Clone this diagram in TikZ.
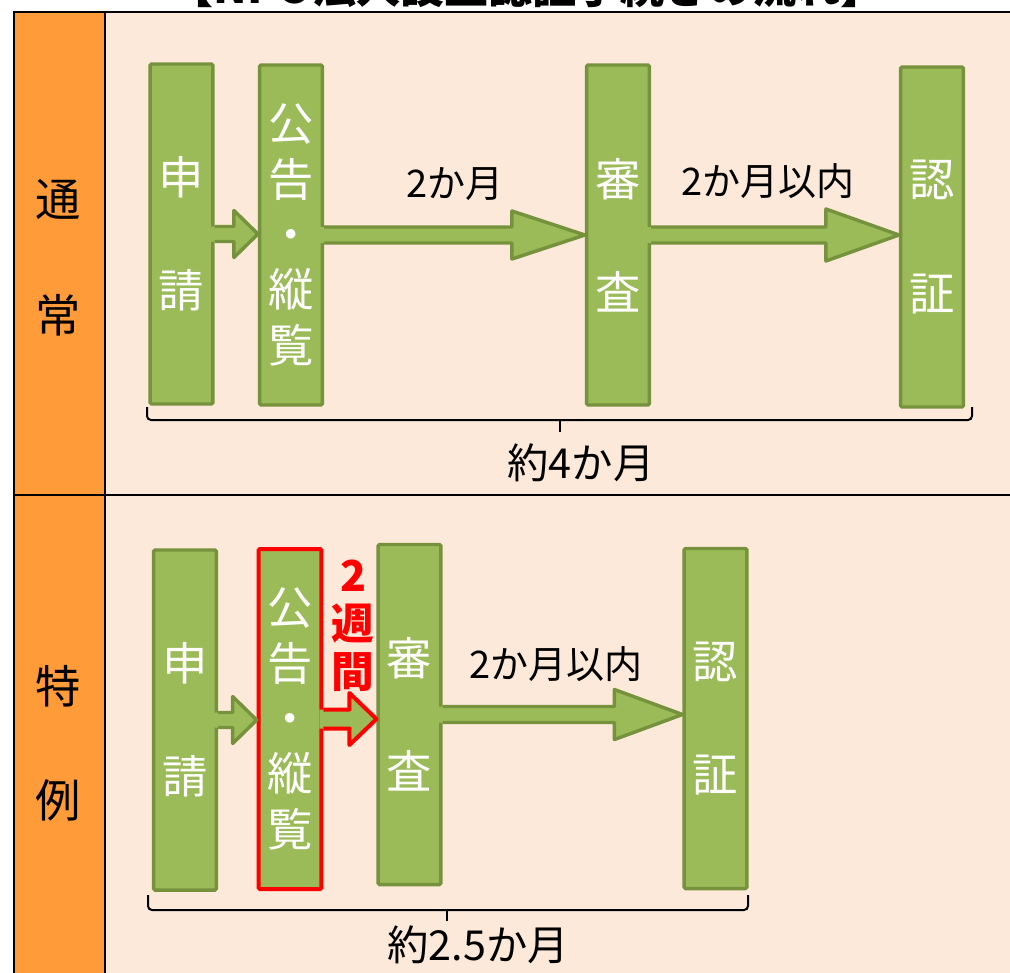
\documentclass[tikz,border=0pt]{standalone}
\usepackage{fontspec}
\setmainfont{Noto Sans CJK JP}
\usetikzlibrary{calc}
\definecolor{peach}{RGB}{253,233,217}
\definecolor{orng}{RGB}{255,155,56}
\definecolor{gfill}{RGB}{155,187,89}
\definecolor{gline}{RGB}{118,146,60}
\definecolor{redc}{RGB}{255,0,0}
\newcommand\blockarr[7]{%
  \coordinate (tipA) at (#3.east -| #4.west);
  \fill[gfill] ($(#3.east)+(-4,-#5)$) -- ($(tipA)+(-#7,-#5)$) -- ($(tipA)+(-#7,-#6)$) -- (tipA) -- ($(tipA)+(-#7,#6)$) -- ($(tipA)+(-#7,#5)$) -- ($(#3.east)+(-4,#5)$) -- cycle;
  \draw[#1,line join=round] ($(#3.east)+(0,-#5)$) -- ($(tipA)+(-#7,-#5)$) -- ($(tipA)+(-#7,-#6)$) -- (tipA) -- ($(tipA)+(-#7,#6)$) -- ($(tipA)+(-#7,#5)$) -- ($(#3.east)+(0,#5)$);
}
\begin{document}
\begin{tikzpicture}[x=0.75pt,y=-0.75pt,
  box/.style={draw=gline, fill=gfill, line width=2.6pt, rounded corners=1pt, inner sep=0pt,
    minimum width=47pt, minimum height=255pt, text=white, align=center},
  onechar/.style={font=\fontsize{34}{85}\selectfont},
  fivechar/.style={font=\fontsize{34}{41.5}\selectfont},
  redbox/.style={draw=redc, line width=3pt},
  garrow/.style={draw=gline, line width=2.6pt},
  rarrow/.style={draw=redc, line width=3pt},
  lbl/.style={font=\fontsize{28.5}{30}\selectfont, inner sep=0pt},
  biglbl/.style={font=\fontsize{31}{34}\selectfont, inner sep=0pt},
  rowlbl/.style={font=\fontsize{34}{36}\selectfont, inner sep=0pt},
  brace/.style={draw=black, line width=1.5pt, rounded corners=3pt}]
\useasboundingbox (0,0) rectangle (1010,972);
\begin{scope}
\clip (0,0) rectangle (1010,972);
\node[font=\bfseries\fontsize{33}{36}\selectfont, inner sep=0pt] (title) at (527,-13) {【NPO法人設立認証手続きの流れ】};
\fill[peach] (105,12) rectangle (1030,1000);
\fill[orng] (14,12) rectangle (105,1000);
\draw[line width=2pt] (14,1000) -- (14,12) -- (1030,12);
\draw[line width=2pt] (105,12) -- (105,1000);
\draw[line width=2pt] (14,495) -- (1030,495);
\end{scope}

\node[rowlbl] (r1a) at (58,200) {通};
\node[rowlbl] (r1b) at (58,315) {常};
\node[rowlbl] (r2a) at (58,686) {特};
\node[rowlbl] (r2b) at (58,800) {例};

% top row
\node[box, onechar] (t1) at (181.5,234) {申\\請};
\node[box, fivechar] (t2) at (291,235) {公\\告\\・\\縦\\覧};
\node[box, onechar] (t3) at (618,235) {審\\査};
\node[box, onechar] (t4) at (932,237) {認\\証};
\blockarr{garrow}{}{t1}{t2}{7.5}{23.5}{24}
\blockarr{garrow}{}{t2}{t3}{8}{24}{73}
\blockarr{garrow}{}{t3}{t4}{8}{26}{73}
\node[lbl] (l1) at (455,184) {2か月};
\node[lbl] (l2) at (768,181) {2か月以内};
\coordinate (bt1) at (147,407);
\coordinate (bt2) at (972,407);
\coordinate (btm) at (560,432);
\draw[brace] (bt1) -- (bt1 |- 0,420) -- (bt2 |- 0,420) -- (bt2);
\draw[line width=1.5pt] (btm |- 0,420) -- (btm);
\node[biglbl] (d1) at (581,463) {約4か月};

% bottom row
\node[box, onechar] (b1) at (185,720) {申\\請};
\node[box, fivechar, redbox] (b2) at (290,719) {公\\告\\・\\縦\\覧};
\node[box, onechar] (b3) at (409.5,714.5) {審\\査};
\node[box, onechar] (b4) at (715.5,718.5) {認\\証};
\blockarr{garrow}{}{b1}{b2}{7.5}{23.5}{24}
\blockarr{rarrow}{}{b2}{b3}{9.5}{26}{27}
\blockarr{garrow}{}{b3}{b4}{8}{25}{68}
\node[font=\bfseries\fontsize{32}{36}\selectfont, text=redc, align=center, inner sep=0pt] (wk) at (353,626) {2\\週\\間};
\node[lbl] (l3) at (556,664) {2か月以内};
\coordinate (bb1) at (148,895);
\coordinate (bb2) at (748,895);
\coordinate (bbm) at (447,921);
\draw[brace] (bb1) -- (bb1 |- 0,910) -- (bb2 |- 0,910) -- (bb2);
\draw[line width=1.5pt] (bbm |- 0,910) -- (bbm);
\node[biglbl] (d2) at (478,945) {約2.5か月};
\end{tikzpicture}
\end{document}
